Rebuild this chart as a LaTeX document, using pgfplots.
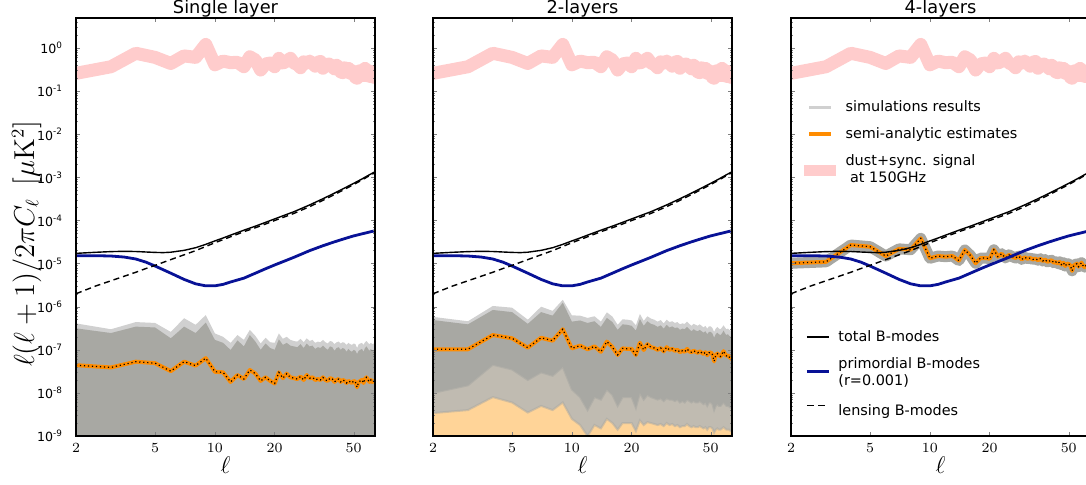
\documentclass[border=0pt]{standalone}
\usepackage[no-math]{fontspec}
\setmainfont{DejaVu Sans}
\usepackage{pgfplots}
\usepackage{pgfplotstable}
\pgfplotsset{compat=1.18}
\usepgfplotslibrary{fillbetween}

\definecolor{sig}{RGB}{255,204,204}
\definecolor{simgray}{RGB}{168,168,163}
\definecolor{simlight}{RGB}{208,208,208}
\definecolor{semi}{RGB}{255,140,0}
\definecolor{simorange}{RGB}{255,212,152}
\definecolor{mixed}{RGB}{192,187,177}
\definecolor{primblue}{RGB}{8,18,150}

\pgfplotsset{
  imgS/.style={legend image code/.code={\draw[##1] (-5.5pt,0pt) -- (5.5pt,0pt);}},
  imgSd/.style={legend image code/.code={\draw[##1] (-5.5pt,-1.5pt) -- (5.5pt,-1.5pt);}},
  imgL/.style={legend image code/.code={\draw[##1] (-8pt,-2.5pt) -- (8pt,-2.5pt);}},
}

% theory spectra
\pgfplotstableread{
l    total     prim     lens
2    1.73e-5   1.53e-5  2.0e-6
2.5  1.83e-5   1.53e-5  3.0e-6
3    1.90e-5   1.50e-5  4.0e-6
3.5  1.93e-5   1.42e-5  5.1e-6
4    1.91e-5   1.28e-5  6.3e-6
4.5  1.86e-5   1.08e-5  7.7e-6
5    1.82e-5   8.8e-6   9.1e-6
5.5  1.80e-5   7.2e-6   1.07e-5
6    1.84e-5   6.0e-6   1.24e-5
7    2.03e-5   4.3e-6   1.6e-5
8    2.34e-5   3.4e-6   2.0e-5
9    2.80e-5   3.05e-6  2.5e-5
10   3.36e-5   3.05e-6  3.05e-5
11   3.93e-5   3.3e-6   3.6e-5
12   4.58e-5   3.75e-6  4.2e-5
14   5.96e-5   4.6e-6   5.5e-5
16   7.40e-5   6.0e-6   6.8e-5
18   9.06e-5   7.6e-6   8.3e-5
20   1.09e-4   9.3e-6   1.0e-4
25   1.60e-4   1.4e-5   1.46e-4
30   2.30e-4   2.0e-5   2.1e-4
35   3.20e-4   2.6e-5   2.94e-4
40   4.32e-4   3.2e-5   4.0e-4
45   5.68e-4   3.8e-5   5.3e-4
50   7.29e-4   4.4e-5   6.85e-4
55   9.19e-4   4.9e-5   8.7e-4
60   1.154e-3  5.4e-5   1.1e-3
64   1.348e-3  5.8e-5   1.29e-3
}\theorytab

% dust+sync signal at 150GHz
\pgfplotstableread{
l sig
2 0.26
3 0.37
4 0.76
5 0.61
6 0.44
7 0.66
8 0.61
9 1.22
10 0.41
11 0.50
12 0.46
13 0.47
14 0.37
15 0.63
16 0.53
17 0.31
18 0.43
19 0.45
20 0.37
21 0.58
22 0.45
23 0.50
24 0.58
25 0.45
26 0.42
27 0.35
28 0.48
29 0.45
30 0.50
31 0.44
32 0.38
33 0.47
34 0.49
35 0.34
36 0.40
37 0.43
38 0.42
39 0.37
40 0.33
41 0.40
42 0.36
43 0.28
44 0.27
45 0.35
46 0.31
47 0.34
48 0.26
49 0.30
50 0.28
51 0.21
52 0.20
53 0.29
54 0.30
55 0.25
56 0.23
57 0.34
58 0.31
59 0.27
60 0.22
61 0.29
62 0.26
63 0.21
64 0.24
}\signaltab

% single layer: semi-analytic, simulation envelope
\pgfplotstableread{
l orange upper top
2 4.4e-8 3.15e-7 4.1e-7
3 3.9e-8 2.45e-7 3.0e-7
4 5.3e-8 3.45e-7 4.4e-7
5 4.9e-8 3.3e-7 4.2e-7
6 3.2e-8 1.85e-7 2.6e-7
7 5.3e-8 3.45e-7 5.4e-7
8 4.3e-8 2.45e-7 3.8e-7
9 6.4e-8 4.3e-7 6.4e-7
10 3.1e-8 1.7e-7 2.4e-7
11 3.0e-8 1.45e-7 2.0e-7
12 1.8e-8 9.9e-8 1.45e-7
13 2.6e-8 1.65e-7 2.2e-7
14 2.1e-8 1.2e-7 1.7e-7
15 3.4e-8 2.2e-7 2.9e-7
16 2.8e-8 1.55e-7 2.1e-7
17 1.9e-8 1.0e-7 1.4e-7
18 2.3e-8 1.4e-7 1.9e-7
19 1.9e-8 1.1e-7 1.5e-7
20 1.65e-8 1.0e-7 1.45e-7
21 3.0e-8 1.75e-7 2.4e-7
22 2.2e-8 1.3e-7 1.8e-7
23 2.8e-8 1.45e-7 2.0e-7
24 2.3e-8 1.25e-7 1.7e-7
25 2.2e-8 1.2e-7 1.6e-7
26 2.1e-8 1.15e-7 1.55e-7
27 2.4e-8 1.35e-7 1.8e-7
28 2.0e-8 1.1e-7 1.5e-7
29 2.6e-8 1.4e-7 1.85e-7
30 2.2e-8 1.2e-7 1.6e-7
31 2.3e-8 1.25e-7 1.7e-7
32 2.0e-8 1.05e-7 1.45e-7
33 2.1e-8 1.15e-7 1.55e-7
34 2.0e-8 1.1e-7 1.5e-7
35 2.3e-8 1.25e-7 1.7e-7
36 2.0e-8 1.1e-7 1.5e-7
37 1.9e-8 1.0e-7 1.4e-7
38 2.2e-8 1.2e-7 1.6e-7
39 2.1e-8 1.15e-7 1.55e-7
40 1.8e-8 9.5e-8 1.35e-7
41 2.0e-8 1.1e-7 1.5e-7
42 2.1e-8 1.15e-7 1.55e-7
43 1.8e-8 1.0e-7 1.4e-7
44 2.0e-8 1.1e-7 1.5e-7
45 1.9e-8 1.05e-7 1.45e-7
46 1.7e-8 9.0e-8 1.3e-7
47 1.9e-8 1.05e-7 1.45e-7
48 1.8e-8 9.5e-8 1.35e-7
49 1.7e-8 9.0e-8 1.3e-7
50 1.9e-8 1.0e-7 1.4e-7
51 1.8e-8 9.5e-8 1.35e-7
52 1.35e-8 8.0e-8 1.1e-7
53 1.8e-8 9.5e-8 1.35e-7
54 1.9e-8 1.0e-7 1.4e-7
55 2.0e-8 1.05e-7 1.45e-7
56 1.7e-8 9.0e-8 1.3e-7
57 2.1e-8 1.1e-7 1.5e-7
58 2.3e-8 1.2e-7 1.6e-7
59 2.0e-8 1.05e-7 1.45e-7
60 1.8e-8 9.5e-8 1.35e-7
61 2.0e-8 1.05e-7 1.45e-7
62 1.8e-8 9.5e-8 1.35e-7
63 1.9e-8 1.0e-7 1.4e-7
64 1.8e-8 9.5e-8 1.35e-7
}\onetab

% 2 layers
\pgfplotstableread{
l orange upper top lower lower2
2 1.03e-7 4.9e-7 5.8e-7 1.0e-8 3.4e-9
3 1.03e-7 3.9e-7 4.6e-7 1.5e-8 4.0e-9
4 2.2e-7 8.4e-7 1.04e-6 4.5e-8 8.0e-9
5 1.85e-7 7.5e-7 9.5e-7 3.5e-8 6.0e-9
6 1.12e-7 4.0e-7 5.0e-7 2.0e-8 3.5e-9
7 1.9e-7 7.5e-7 1.0e-6 3.0e-8 5.0e-9
8 1.63e-7 6.2e-7 8.0e-7 2.5e-8 4.0e-9
9 3.0e-7 1.24e-6 1.45e-6 4.0e-8 6.0e-9
10 1.08e-7 4.5e-7 6.3e-7 1.2e-8 2.5e-9
11 1.25e-7 4.8e-7 6.2e-7 8.0e-9 1.8e-9
12 1.03e-7 4.2e-7 5.5e-7 4.0e-9 1.0e-9
13 1.2e-7 4.6e-7 6.0e-7 8.0e-9 1.8e-9
14 9.0e-8 3.4e-7 4.5e-7 7.0e-9 1.5e-9
15 1.55e-7 5.5e-7 7.4e-7 1.2e-8 2.5e-9
16 1.15e-7 4.4e-7 5.9e-7 9.0e-9 2.0e-9
17 7.6e-8 2.9e-7 3.8e-7 5.0e-9 1.4e-9
18 1.08e-7 3.9e-7 5.1e-7 8.0e-9 2.0e-9
19 1.05e-7 3.8e-7 5.0e-7 8.0e-9 2.0e-9
20 1.05e-7 3.6e-7 4.8e-7 8.0e-9 2.0e-9
21 7.6e-8 2.8e-7 3.7e-7 4.5e-9 1.3e-9
22 1.46e-7 5.2e-7 6.8e-7 1.0e-8 2.3e-9
23 9.9e-8 3.6e-7 4.7e-7 7.0e-9 1.8e-9
24 1.35e-7 4.6e-7 6.0e-7 9.0e-9 2.1e-9
25 1.15e-7 4.0e-7 5.3e-7 8.0e-9 2.0e-9
26 1.1e-7 3.8e-7 5.0e-7 7.5e-9 1.9e-9
27 1.0e-7 3.4e-7 4.5e-7 7.0e-9 1.8e-9
28 1.1e-7 3.7e-7 4.9e-7 7.5e-9 1.9e-9
29 9.2e-8 3.1e-7 4.1e-7 6.5e-9 1.7e-9
30 1.15e-7 3.8e-7 5.0e-7 7.5e-9 2.0e-9
31 1.0e-7 3.3e-7 4.4e-7 7.0e-9 1.8e-9
32 1.05e-7 3.5e-7 4.6e-7 7.0e-9 1.9e-9
33 9.5e-8 3.2e-7 4.2e-7 6.5e-9 1.7e-9
34 1.0e-7 3.3e-7 4.4e-7 7.0e-9 1.8e-9
35 8.8e-8 2.9e-7 3.9e-7 6.0e-9 1.6e-9
36 9.5e-8 3.1e-7 4.1e-7 6.5e-9 1.7e-9
37 9.0e-8 3.0e-7 4.0e-7 6.0e-9 1.7e-9
38 1.05e-7 3.4e-7 4.5e-7 7.0e-9 1.9e-9
39 9.2e-8 3.0e-7 4.0e-7 6.5e-9 1.7e-9
40 8.8e-8 2.7e-7 3.6e-7 6.0e-9 1.6e-9
41 9.5e-8 3.0e-7 4.0e-7 6.5e-9 1.7e-9
42 9.0e-8 2.8e-7 3.8e-7 6.0e-9 1.6e-9
43 8.5e-8 2.7e-7 3.6e-7 6.0e-9 1.6e-9
44 9.2e-8 2.9e-7 3.9e-7 6.5e-9 1.7e-9
45 8.6e-8 2.7e-7 3.6e-7 6.0e-9 1.6e-9
46 8.0e-8 2.5e-7 3.3e-7 5.5e-9 1.5e-9
47 8.8e-8 2.7e-7 3.6e-7 6.0e-9 1.6e-9
48 7.5e-8 2.3e-7 3.1e-7 5.0e-9 1.4e-9
49 8.5e-8 2.6e-7 3.5e-7 6.0e-9 1.6e-9
50 8.7e-8 2.6e-7 3.5e-7 6.0e-9 1.6e-9
51 7.8e-8 2.4e-7 3.2e-7 5.5e-9 1.5e-9
52 5.4e-8 1.9e-7 2.6e-7 4.0e-9 1.2e-9
53 7.5e-8 2.3e-7 3.1e-7 5.0e-9 1.4e-9
54 8.2e-8 2.5e-7 3.4e-7 5.5e-9 1.5e-9
55 7.5e-8 2.3e-7 3.1e-7 5.0e-9 1.4e-9
56 7.0e-8 2.2e-7 3.0e-7 5.0e-9 1.4e-9
57 8.0e-8 2.4e-7 3.3e-7 5.5e-9 1.5e-9
58 9.3e-8 2.8e-7 3.7e-7 6.0e-9 1.6e-9
59 8.0e-8 2.4e-7 3.3e-7 5.5e-9 1.5e-9
60 7.2e-8 2.2e-7 3.0e-7 5.0e-9 1.4e-9
61 7.5e-8 2.3e-7 3.1e-7 5.0e-9 1.4e-9
62 6.8e-8 2.1e-7 2.9e-7 4.8e-9 1.4e-9
63 6.5e-8 2.0e-7 2.8e-7 4.5e-9 1.3e-9
64 6.0e-8 2.0e-7 2.8e-7 4.5e-9 1.3e-9
}\twotab

% 4 layers
\pgfplotstableread{
l orange
2 1.02e-5
3 1.1e-5
4 2.7e-5
5 2.47e-5
6 1.5e-5
7 2.2e-5
8 2.1e-5
9 3.86e-5
10 1.33e-5
11 1.5e-5
12 1.45e-5
13 1.5e-5
14 1.18e-5
15 2.07e-5
16 1.55e-5
17 1.02e-5
18 1.35e-5
19 1.35e-5
20 1.3e-5
21 2.1e-5
22 1.45e-5
23 1.7e-5
24 1.35e-5
25 1.6e-5
26 1.45e-5
27 1.35e-5
28 1.5e-5
29 1.25e-5
30 1.4e-5
31 1.3e-5
32 1.35e-5
33 1.25e-5
34 1.3e-5
35 1.2e-5
36 1.3e-5
37 1.15e-5
38 1.25e-5
39 1.1e-5
40 1.15e-5
41 1.2e-5
42 1.05e-5
43 1.1e-5
44 1.0e-5
45 1.1e-5
46 9.5e-6
47 1.05e-5
48 8.8e-6
49 1.0e-5
50 9.8e-6
51 9.0e-6
52 6.8e-6
53 9.0e-6
54 9.5e-6
55 1.0e-5
56 8.5e-6
57 9.5e-6
58 1.05e-5
59 9.0e-6
60 8.3e-6
61 9.0e-6
62 8.5e-6
63 8.0e-6
64 8.3e-6
}\fourtab

\begin{document}
\begin{tikzpicture}

% ---- single layer ----
\begin{loglogaxis}[at={(38pt,24pt)}, anchor=south west,
  scale only axis, width=149.5pt, height=209pt,
  xmin=2, xmax=64, ymin=1e-9, ymax=5, axis on top,
  xtick={2,5,10,20,50}, xticklabels={$2$,$5$,$10$,$20$,$50$}, minor xtick={},
  ytick={1e-9,1e-8,1e-7,1e-6,1e-5,1e-4,1e-3,1e-2,1e-1,1},
  minor ytick={2e-9,3e-9,4e-9,5e-9,6e-9,7e-9,8e-9,9e-9,2e-8,3e-8,4e-8,5e-8,6e-8,7e-8,8e-8,9e-8,2e-7,3e-7,4e-7,5e-7,6e-7,7e-7,8e-7,9e-7,2e-6,3e-6,4e-6,5e-6,6e-6,7e-6,8e-6,9e-6,2e-5,3e-5,4e-5,5e-5,6e-5,7e-5,8e-5,9e-5,2e-4,3e-4,4e-4,5e-4,6e-4,7e-4,8e-4,9e-4,2e-3,3e-3,4e-3,5e-3,6e-3,7e-3,8e-3,9e-3,2e-2,3e-2,4e-2,5e-2,6e-2,7e-2,8e-2,9e-2,2e-1,3e-1,4e-1,5e-1,6e-1,7e-1,8e-1,9e-1,2,3,4},
  tick align=inside, xtick pos=both, ytick pos=both,
  major tick length=2pt, minor tick length=1pt,
  axis line style={line width=0.6pt},
  xticklabel style={font=\fontsize{7}{8}\selectfont},
  yticklabel style={font=\fontsize{6.3}{7}\selectfont, xshift=-3pt},
  title style={font=\fontsize{8.9}{10}\selectfont, at={(axis description cs:0.5,1)}, anchor=base, yshift=-3.5pt},
  xlabel={$\ell$},
  xlabel style={font=\fontsize{12}{14}\selectfont, at={(axis description cs:0.5,0)}, anchor=center, yshift=-14.5pt},
  title={Single layer},
  yticklabels={10\textsuperscript{-9},10\textsuperscript{-8},10\textsuperscript{-7},10\textsuperscript{-6},10\textsuperscript{-5},10\textsuperscript{-4},10\textsuperscript{-3},10\textsuperscript{-2},10\textsuperscript{-1},10\textsuperscript{0}},
  ylabel={$\ell(\ell+1)/2\pi C_\ell\ \left[\mu\mathrm{K}^2\right]$},
  ylabel style={font=\fontsize{13.3}{15}\selectfont, at={(axis description cs:-0.165,0.46)}, anchor=center},
]
\addplot[name path=floorA, draw=none] coordinates {(2,1e-10) (64,1e-10)};
\addplot[sig, line width=6.5pt, line join=round, line cap=round] table[x=l,y=sig]{\signaltab};
\addplot[name path=topA, draw=none] table[x=l,y=top]{\onetab};
\addplot[name path=upA, draw=none] table[x=l,y=upper]{\onetab};
\addplot[simlight, draw=none] fill between[of=topA and floorA];
\addplot[simgray, draw=none] fill between[of=upA and floorA];
\addplot[semi, line width=2pt, line join=round] table[x=l,y=orange]{\onetab};
\addplot[black, line width=0.6pt, dash pattern=on 0.6pt off 1.4pt] table[x=l,y=orange]{\onetab};
\addplot[black, line width=0.7pt] table[x=l,y=total]{\theorytab};
\addplot[primblue, line width=1.4pt] table[x=l,y=prim]{\theorytab};
\addplot[black, line width=0.7pt, dash pattern=on 3pt off 2pt] table[x=l,y=lens]{\theorytab};
\end{loglogaxis}

% ---- 2 layers ----
\begin{loglogaxis}[at={(216.5pt,24pt)}, anchor=south west,
  scale only axis, width=149.5pt, height=209pt,
  xmin=2, xmax=64, ymin=1e-9, ymax=5, axis on top,
  xtick={2,5,10,20,50}, xticklabels={$2$,$5$,$10$,$20$,$50$}, minor xtick={},
  ytick={1e-9,1e-8,1e-7,1e-6,1e-5,1e-4,1e-3,1e-2,1e-1,1}, yticklabels={},
  minor ytick={2e-9,3e-9,4e-9,5e-9,6e-9,7e-9,8e-9,9e-9,2e-8,3e-8,4e-8,5e-8,6e-8,7e-8,8e-8,9e-8,2e-7,3e-7,4e-7,5e-7,6e-7,7e-7,8e-7,9e-7,2e-6,3e-6,4e-6,5e-6,6e-6,7e-6,8e-6,9e-6,2e-5,3e-5,4e-5,5e-5,6e-5,7e-5,8e-5,9e-5,2e-4,3e-4,4e-4,5e-4,6e-4,7e-4,8e-4,9e-4,2e-3,3e-3,4e-3,5e-3,6e-3,7e-3,8e-3,9e-3,2e-2,3e-2,4e-2,5e-2,6e-2,7e-2,8e-2,9e-2,2e-1,3e-1,4e-1,5e-1,6e-1,7e-1,8e-1,9e-1,2,3,4},
  tick align=inside, xtick pos=both, ytick pos=both,
  major tick length=2pt, minor tick length=1pt,
  axis line style={line width=0.6pt},
  xticklabel style={font=\fontsize{7}{8}\selectfont},
  title style={font=\fontsize{8.9}{10}\selectfont, at={(axis description cs:0.5,1)}, anchor=base, yshift=-3.5pt},
  xlabel={$\ell$},
  xlabel style={font=\fontsize{12}{14}\selectfont, at={(axis description cs:0.5,0)}, anchor=center, yshift=-14.5pt},
  title={2-layers},
]
\addplot[name path=floorB, draw=none] coordinates {(2,1e-10) (64,1e-10)};
\addplot[sig, line width=6.5pt, line join=round, line cap=round] table[x=l,y=sig]{\signaltab};
\addplot[name path=topB, draw=none] table[x=l,y=top]{\twotab};
\addplot[name path=upB, draw=none] table[x=l,y=upper]{\twotab};
\addplot[name path=lowB, draw=none] table[x=l,y=lower]{\twotab};
\addplot[name path=low2B, draw=none] table[x=l,y=lower2]{\twotab};
\addplot[simlight, draw=none] fill between[of=topB and floorB];
\addplot[simgray, draw=none] fill between[of=upB and floorB];
\addplot[mixed, draw=none] fill between[of=lowB and floorB];
\addplot[simorange, draw=none] fill between[of=low2B and floorB];
\addplot[simgray, opacity=0.6, line width=1pt] table[x=l,y=lower]{\twotab};
\addplot[simgray, opacity=0.5, line width=1pt] table[x=l,y=lower2]{\twotab};
\addplot[semi, line width=2pt, line join=round] table[x=l,y=orange]{\twotab};
\addplot[black, line width=0.6pt, dash pattern=on 0.6pt off 1.4pt] table[x=l,y=orange]{\twotab};
\addplot[black, line width=0.7pt] table[x=l,y=total]{\theorytab};
\addplot[primblue, line width=1.4pt] table[x=l,y=prim]{\theorytab};
\addplot[black, line width=0.7pt, dash pattern=on 3pt off 2pt] table[x=l,y=lens]{\theorytab};
\end{loglogaxis}

% ---- 4 layers ----
\begin{loglogaxis}[at={(395.5pt,24pt)}, anchor=south west,
  scale only axis, width=149.5pt, height=209pt,
  xmin=2, xmax=64, ymin=1e-9, ymax=5, axis on top,
  xtick={2,5,10,20,50}, xticklabels={$2$,$5$,$10$,$20$,$50$}, minor xtick={},
  ytick={1e-9,1e-8,1e-7,1e-6,1e-5,1e-4,1e-3,1e-2,1e-1,1}, yticklabels={},
  minor ytick={2e-9,3e-9,4e-9,5e-9,6e-9,7e-9,8e-9,9e-9,2e-8,3e-8,4e-8,5e-8,6e-8,7e-8,8e-8,9e-8,2e-7,3e-7,4e-7,5e-7,6e-7,7e-7,8e-7,9e-7,2e-6,3e-6,4e-6,5e-6,6e-6,7e-6,8e-6,9e-6,2e-5,3e-5,4e-5,5e-5,6e-5,7e-5,8e-5,9e-5,2e-4,3e-4,4e-4,5e-4,6e-4,7e-4,8e-4,9e-4,2e-3,3e-3,4e-3,5e-3,6e-3,7e-3,8e-3,9e-3,2e-2,3e-2,4e-2,5e-2,6e-2,7e-2,8e-2,9e-2,2e-1,3e-1,4e-1,5e-1,6e-1,7e-1,8e-1,9e-1,2,3,4},
  tick align=inside, xtick pos=both, ytick pos=both,
  major tick length=2pt, minor tick length=1pt,
  axis line style={line width=0.6pt},
  xticklabel style={font=\fontsize{7}{8}\selectfont},
  title style={font=\fontsize{8.9}{10}\selectfont, at={(axis description cs:0.5,1)}, anchor=base, yshift=-3.5pt},
  xlabel={$\ell$},
  xlabel style={font=\fontsize{12}{14}\selectfont, at={(axis description cs:0.5,0)}, anchor=center, yshift=-14.5pt},
  title={4-layers},
  legend style={at={(axis description cs:0.024,0.806)}, anchor=north west,
    draw=none, fill=none, inner sep=0pt, row sep=5.9pt, column sep=2pt,
    font=\fontsize{7.2}{8.6}\selectfont, nodes={inner sep=0pt}},
  legend cell align=left,
]
\addplot[sig, line width=6.5pt, line join=round, line cap=round, forget plot] table[x=l,y=sig]{\signaltab};
\addplot[simgray, line width=5.5pt, line join=round, forget plot] table[x=l,y=orange]{\fourtab};
\addplot[semi, line width=2pt, line join=round, forget plot] table[x=l,y=orange]{\fourtab};
\addplot[black, line width=0.6pt, dash pattern=on 0.6pt off 1.4pt, forget plot] table[x=l,y=orange]{\fourtab};
\addplot[black, line width=0.7pt, forget plot] table[x=l,y=total]{\theorytab};
\addplot[primblue, line width=1.4pt, forget plot] table[x=l,y=prim]{\theorytab};
\addplot[black, line width=0.7pt, dash pattern=on 3pt off 2pt, forget plot] table[x=l,y=lens]{\theorytab};
\addlegendimage{simlight, line width=1.5pt, imgS}
\addlegendentry{\strut simulations results}
\addlegendimage{semi, line width=2pt, imgS}
\addlegendentry{\strut semi-analytic estimates}
\addlegendimage{sig, line width=5.5pt, imgL}
\addlegendentry{\begin{tabular}{@{}l@{}}dust+sync. signal\\\ at 150GHz\end{tabular}}
\end{loglogaxis}

% ---- second legend of the 4-layers panel ----
\begin{axis}[at={(395.5pt,24pt)}, anchor=south west,
  scale only axis, width=149.5pt, height=209pt,
  xmin=0, xmax=1, ymin=0, ymax=1, hide axis,
  legend style={at={(axis description cs:0.047,0.256)}, anchor=north west,
    draw=none, fill=none, inner sep=0pt, row sep=5.9pt, column sep=4pt,
    font=\fontsize{7.2}{8.6}\selectfont, nodes={inner sep=0pt}},
  legend cell align=left,
]
\addlegendimage{black, line width=0.7pt, imgS}
\addlegendentry{\strut total B-modes}
\addlegendimage{primblue, line width=1.5pt, imgSd}
\addlegendentry{\begin{tabular}{@{}l@{}}primordial B-modes\\(r=0.001)\end{tabular}}
\addlegendimage{black, line width=0.7pt, dash pattern=on 3.3pt off 2.4pt, imgS}
\addlegendentry{\raisebox{0pt}[12pt][8.6pt]{lensing B-modes}}
\end{axis}

\pgfresetboundingbox
\path[use as bounding box] (0,0) rectangle (543pt,242pt);
\end{tikzpicture}
\end{document}
